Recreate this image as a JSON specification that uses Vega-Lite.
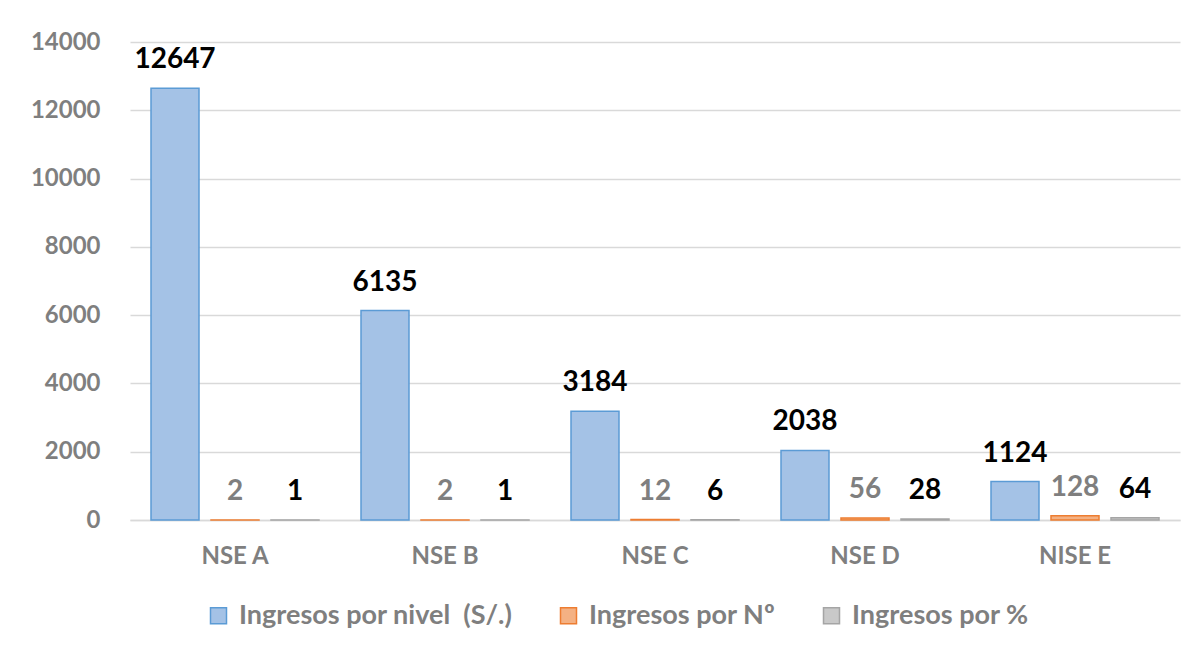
{
  "$schema": "https://vega.github.io/schema/vega-lite/v6.json",
  "width": 1050,
  "height": 478,
  "autosize": {"type": "none"},
  "padding": {"left": 130, "top": 42, "right": 22, "bottom": 132},
  "background": "white",
  "config": {
    "font": "Lato",
    "view": {"stroke": null},
    "axis": {"labelFont": "Lato", "labelFontWeight": "bold", "labelColor": "#7f7f7f", "labelFontSize": 24, "ticks": false, "title": null},
    "legend": {"labelFont": "Lato"}
  },
  "data": {
    "values": [
      {"nivel": "NSE A", "serie": "Ingresos por nivel  (S/.)", "valor": 12647},
      {"nivel": "NSE A", "serie": "Ingresos por Nº", "valor": 2},
      {"nivel": "NSE A", "serie": "Ingresos por %", "valor": 1},
      {"nivel": "NSE B", "serie": "Ingresos por nivel  (S/.)", "valor": 6135},
      {"nivel": "NSE B", "serie": "Ingresos por Nº", "valor": 2},
      {"nivel": "NSE B", "serie": "Ingresos por %", "valor": 1},
      {"nivel": "NSE C", "serie": "Ingresos por nivel  (S/.)", "valor": 3184},
      {"nivel": "NSE C", "serie": "Ingresos por Nº", "valor": 12},
      {"nivel": "NSE C", "serie": "Ingresos por %", "valor": 6},
      {"nivel": "NSE D", "serie": "Ingresos por nivel  (S/.)", "valor": 2038},
      {"nivel": "NSE D", "serie": "Ingresos por Nº", "valor": 56},
      {"nivel": "NSE D", "serie": "Ingresos por %", "valor": 28},
      {"nivel": "NISE E", "serie": "Ingresos por nivel  (S/.)", "valor": 1124},
      {"nivel": "NISE E", "serie": "Ingresos por Nº", "valor": 128},
      {"nivel": "NISE E", "serie": "Ingresos por %", "valor": 64}
    ]
  },
  "encoding": {
    "x": {
      "field": "nivel", "type": "nominal", "sort": null,
      "scale": {"paddingInner": 0.2, "paddingOuter": 0.1},
      "axis": {"labelAngle": 0, "labelPadding": 24, "domainColor": "#d9d9d9", "domainWidth": 1.5, "grid": false}
    },
    "xOffset": {
      "field": "serie", "type": "nominal",
      "sort": ["Ingresos por nivel  (S/.)", "Ingresos por Nº", "Ingresos por %"],
      "scale": {"paddingInner": 0.2, "paddingOuter": 0}
    },
    "y": {
      "field": "valor", "type": "quantitative",
      "scale": {"domain": [0, 14000], "nice": false},
      "axis": {"values": [0, 2000, 4000, 6000, 8000, 10000, 12000, 14000], "domain": false, "gridColor": "#d9d9d9", "gridWidth": 1.5, "labelPadding": 30, "format": "d"}
    }
  },
  "layer": [
    {
      "mark": {"type": "bar", "strokeWidth": 1.5},
      "encoding": {
        "fill": {
          "field": "serie", "type": "nominal",
          "sort": ["Ingresos por nivel  (S/.)", "Ingresos por Nº", "Ingresos por %"],
          "scale": {"domain": ["Ingresos por nivel  (S/.)", "Ingresos por Nº", "Ingresos por %"], "range": ["#a4c2e6", "#f4b183", "#c9c9c9"]},
          "legend": {
            "orient": "none", "legendX": 75, "legendY": 560, "direction": "horizontal", "title": null,
            "symbolType": "square", "symbolSize": 256, "symbolStrokeWidth": 1.5,
            "labelFontSize": 27, "labelFontWeight": "bold", "labelColor": "#7f7f7f", "labelLimit": 0,
            "labelExpr": "replace(datum.label, '  ', ' \u00a0')",
            "columnPadding": 42, "labelOffset": 7
          }
        },
        "stroke": {
          "field": "serie", "type": "nominal",
          "sort": ["Ingresos por nivel  (S/.)", "Ingresos por Nº", "Ingresos por %"],
          "scale": {"domain": ["Ingresos por nivel  (S/.)", "Ingresos por Nº", "Ingresos por %"], "range": ["#5b9bd5", "#ed7d31", "#a5a5a5"]}
        }
      }
    },
    {
      "mark": {"type": "text", "baseline": "alphabetic", "dy": -20, "fontSize": 28, "fontWeight": "bold", "font": "Lato"},
      "encoding": {
        "text": {"field": "valor", "type": "quantitative", "format": "d"},
        "color": {"condition": {"test": "datum.serie === 'Ingresos por Nº'", "value": "#7f7f7f"}, "value": "#000000"}
      }
    }
  ]
}
